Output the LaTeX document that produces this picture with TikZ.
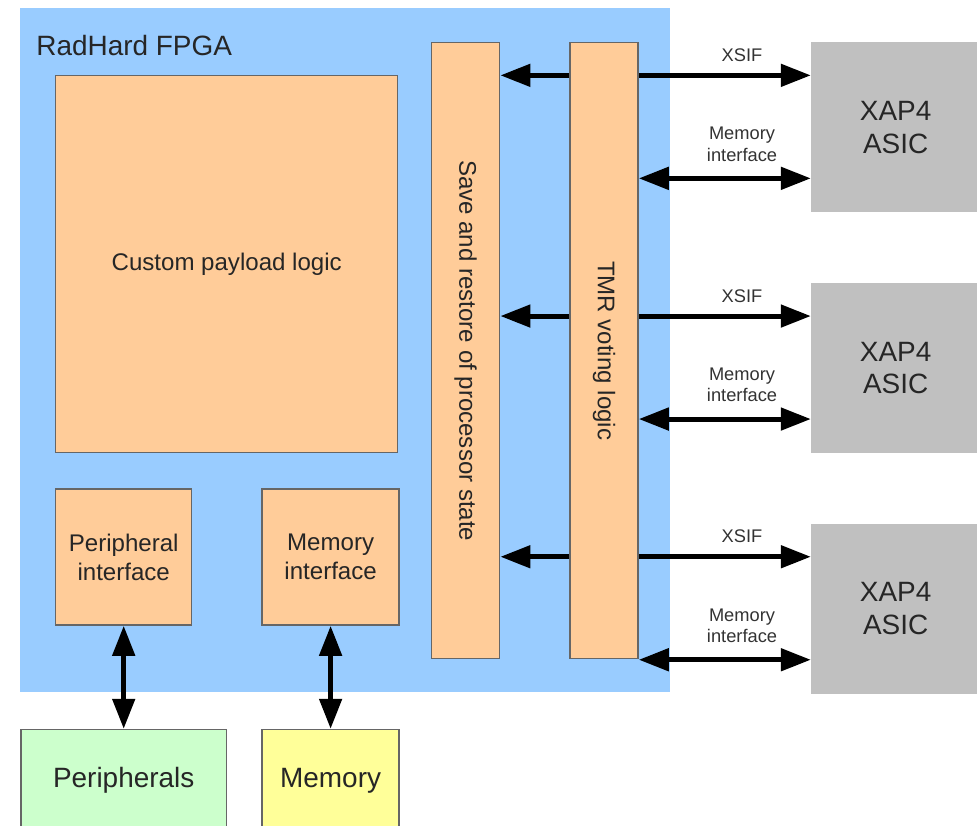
\documentclass[tikz,border=0pt]{standalone}
\usepackage{fontspec}
\setmainfont{Liberation Sans}
\usetikzlibrary{positioning,arrows.meta}
\definecolor{fpgablue}{HTML}{99CCFF}
\definecolor{logicorange}{HTML}{FFCC99}
\definecolor{asicgray}{HTML}{C0C0C0}
\definecolor{perigreen}{HTML}{CCFFCC}
\definecolor{memyellow}{HTML}{FFFF99}
\tikzset{
    block/.style={
        rectangle, draw=black!60, line width=0.8pt,
        fill=logicorange, inner sep=0pt,
        align=center, text=black!85,
        font=\fontsize{13.7}{16.5}\selectfont
    },
    bar/.style={
        block, minimum width=1.36cm,
        minimum height=12.32cm
    },
    asic/.style={
        rectangle, fill=asicgray,
        minimum width=3.38cm, minimum height=3.4cm,
        align=center, text=black!85,
        font=\fontsize{15.9}{18.5}\selectfont
    },
    extbox/.style={
        block, minimum height=2.04cm,
        font=\fontsize{15.9}{18.5}\selectfont
    },
    link/.style={
        line width=2.8pt,
        -{Triangle[length=0.6cm,width=0.44cm]}
    },
    dbllink/.style={
        line width=2.8pt,
        {Triangle[length=0.6cm,width=0.44cm]}-{Triangle[length=0.6cm,width=0.44cm]}
    },
    tag/.style={
        font=\fontsize{10.4}{12.2}\selectfont,
        text=black!80, align=center
    }
}
\begin{document}
\begin{tikzpicture}

        \clip (0,0) rectangle (19.54,16.5);

        % FPGA
        \node[rectangle, fill=fpgablue, minimum width=13cm,
            minimum height=13.68cm, anchor=north west] (fpga) at (0.4,16.34) {};
        \node[below right=0.53cm and 0.32cm of fpga.north west, inner sep=0pt,
            text=black!85, font=\fontsize{15.9}{18.5}\selectfont] (title)
            {RadHard FPGA};

        % Logic inside the FPGA
        \node[block, minimum width=6.84cm, minimum height=7.54cm,
            below right=1.34cm and 0.7cm of fpga.north west] (payload)
            {Custom payload logic};
        \node[block, minimum width=2.72cm, minimum height=2.72cm,
            below right=0.7cm and 0cm of payload.south west] (perif)
            {Peripheral\\interface};
        \node[block, minimum width=2.74cm, minimum height=2.72cm,
            right=1.38cm of perif] (memif)
            {Memory\\interface};

        % Vertical bars
        \node[bar, below right=0.68cm and 8.22cm of fpga.north west] (save)
            {\rotatebox{-90}{Save and restore of processor state}};
        \node[bar, right=1.38cm of save] (tmr)
            {\rotatebox{-90}{TMR voting logic}};

        % ASICs
        \node[asic, below right=0cm and 3.44cm of tmr.north east] (asic1)
            {XAP4\\ASIC};
        \node[asic, below=1.4cm of asic1] (asic2) {XAP4\\ASIC};
        \node[asic, below=1.4cm of asic2] (asic3) {XAP4\\ASIC};

        % Outside devices
        \node[extbox, fill=perigreen, minimum width=4.1cm,
            below=2.06cm of perif] (periph) {Peripherals};
        \node[extbox, fill=memyellow, minimum width=2.74cm,
            below=2.06cm of memif] (mem) {Memory};

        % Row points on the ASICs
        \coordinate (xsif1) at ([yshift=1.04cm]asic1.west);
        \coordinate (xsif2) at ([yshift=1.04cm]asic2.west);
        \coordinate (xsif3) at ([yshift=1.04cm]asic3.west);
        \coordinate (mi1) at ([yshift=-1.02cm]asic1.west);
        \coordinate (mi2) at ([yshift=-1.02cm]asic2.west);
        \coordinate (mi3) at ([yshift=-1.02cm]asic3.west);

        % Arrows from TMR to save/restore
        \draw[link] (tmr.west |- xsif1) -- (save.east |- xsif1);
        \draw[link] (tmr.west |- xsif2) -- (save.east |- xsif2);
        \draw[link] (tmr.west |- xsif3) -- (save.east |- xsif3);

        % Arrows to ASICs
        \draw[link] (tmr.east |- xsif1) -- node[tag, pos=0.6, above=3pt]{XSIF} (xsif1);
        \draw[link] (tmr.east |- xsif2) -- node[tag, pos=0.6, above=3pt]{XSIF} (xsif2);
        \draw[link] (tmr.east |- xsif3) -- node[tag, pos=0.6, above=3pt]{XSIF} (xsif3);
        \draw[dbllink] (tmr.east |- mi1) -- node[tag, pos=0.6, above=5pt]{Memory\\interface} (mi1);
        \draw[dbllink] (tmr.east |- mi2) -- node[tag, pos=0.6, above=5pt]{Memory\\interface} (mi2);
        \draw[dbllink] (tmr.east |- mi3) -- node[tag, pos=0.6, above=5pt]{Memory\\interface} (mi3);

        % Arrows to outside devices
        \draw[dbllink] (perif) -- (periph);
        \draw[dbllink] (memif) -- (mem);

    \end{tikzpicture}
\end{document}
